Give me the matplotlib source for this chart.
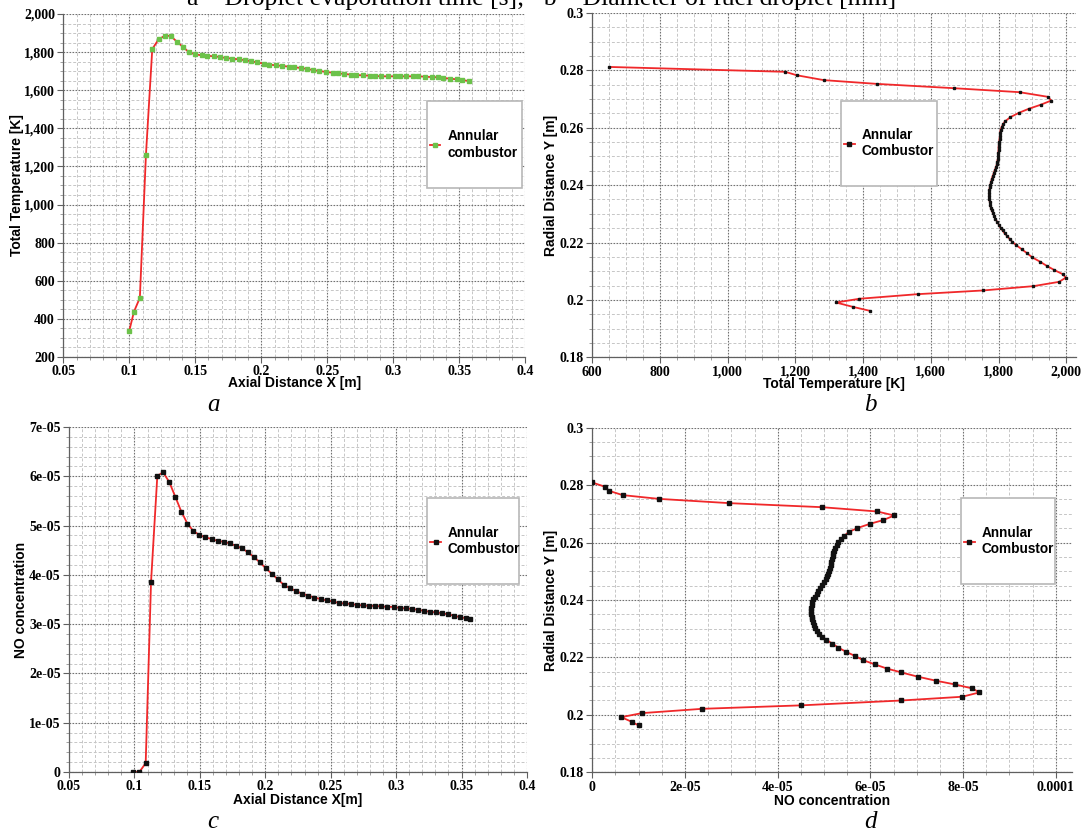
import numpy as np
import matplotlib
matplotlib.use("Agg")
import matplotlib.pyplot as plt
from matplotlib.ticker import MultipleLocator
from matplotlib.patches import Rectangle
from matplotlib.lines import Line2D

# ---- data ----
# a: total temperature along the axis
a_x = [0.100, 0.1035, 0.108, 0.1126, 0.1174, 0.1222, 0.127, 0.1313, 0.136, 0.141, 0.1452,
       0.150, 0.155, 0.159, 0.164, 0.169, 0.173, 0.178, 0.183, 0.188, 0.192,
       0.197, 0.202, 0.206, 0.211, 0.216, 0.221, 0.225, 0.230, 0.235, 0.239,
       0.244, 0.249, 0.254, 0.258, 0.263, 0.268, 0.272, 0.277, 0.282, 0.286,
       0.291, 0.296, 0.301, 0.305, 0.310, 0.315, 0.319, 0.324, 0.329, 0.334,
       0.338, 0.343, 0.348, 0.352, 0.357]
a_t = [338, 437, 511, 1260, 1816, 1867, 1886, 1885, 1855, 1825, 1799,
       1788, 1783, 1781, 1778, 1774, 1769, 1766, 1762, 1757, 1752,
       1746, 1739, 1734, 1731, 1727, 1724, 1720, 1717, 1711, 1706,
       1701, 1696, 1692, 1689, 1685, 1682, 1680, 1678, 1676, 1675,
       1673, 1673, 1673, 1673, 1673, 1673, 1673, 1671, 1669, 1668,
       1664, 1661, 1657, 1654, 1648]

# b: total temperature across the radius
b_r = [0.2812, 0.2795, 0.2783, 0.2766, 0.2753, 0.2738, 0.2724, 0.2708, 0.2695, 0.2680,
       0.2666, 0.2652, 0.2637,
       0.2622, 0.2612, 0.2602, 0.2592, 0.2582, 0.2572, 0.2562, 0.2552, 0.2542, 0.2532,
       0.2522, 0.2512, 0.2502, 0.2492, 0.2482, 0.2472, 0.2462, 0.2452, 0.2442, 0.2432,
       0.2422, 0.2412, 0.2402, 0.2392, 0.2382, 0.2372, 0.2362, 0.2352, 0.2342, 0.2332,
       0.2322, 0.2312, 0.2302, 0.2292, 0.2282, 0.2272, 0.2262, 0.2252, 0.2242, 0.2232,
       0.2222, 0.2212, 0.2202, 0.2192,
       0.2177, 0.2163, 0.2148, 0.2133, 0.2119, 0.2104, 0.2090, 0.2078, 0.2063, 0.2048,
       0.2033, 0.2020, 0.2004, 0.1991, 0.1976, 0.1962]
b_t = [650, 1170, 1204, 1284, 1440, 1667, 1862, 1945, 1956, 1924,
       1889, 1860, 1835,
       1819, 1813, 1809, 1806, 1805, 1804, 1803, 1802, 1801, 1800,
       1800, 1799, 1799, 1798, 1796, 1795, 1792, 1789, 1786, 1783,
       1780, 1778, 1776, 1774, 1773, 1772, 1772, 1773, 1774, 1776,
       1777, 1780, 1784, 1787, 1791, 1796, 1801, 1806, 1812, 1818,
       1826, 1833, 1841, 1851,
       1868, 1884, 1900, 1923, 1942, 1965, 1989, 1999, 1979, 1903,
       1755, 1561, 1389, 1320, 1369, 1420]

# c: NO along the axis (values in 1e-05)
c_x = [0.0992, 0.1038, 0.1086, 0.1127, 0.1175, 0.1219, 0.1267, 0.1313, 0.1359, 0.1405,
       0.1450, 0.1496, 0.1543, 0.1589, 0.1635, 0.1681, 0.1727, 0.1775, 0.1821, 0.1867,
       0.1910, 0.1956, 0.2002, 0.2050, 0.2096, 0.2144, 0.2190, 0.2236, 0.2282, 0.2328,
       0.2374, 0.2422, 0.2471, 0.2516, 0.2562, 0.2608, 0.2654, 0.2700, 0.2746, 0.2792,
       0.2840, 0.2886, 0.2932, 0.2981, 0.3027, 0.3073, 0.3119, 0.3167, 0.3213, 0.3259,
       0.3305, 0.3351, 0.3397, 0.3443, 0.3489, 0.3535, 0.3566]
c_no = [0, 0, 0.18, 3.86, 6.01, 6.08, 5.88, 5.58, 5.28, 5.04,
        4.89, 4.81, 4.76, 4.73, 4.69, 4.67, 4.64, 4.59, 4.54, 4.46,
        4.37, 4.26, 4.14, 4.02, 3.91, 3.79, 3.73, 3.67, 3.62, 3.58,
        3.54, 3.51, 3.48, 3.46, 3.43, 3.42, 3.41, 3.39, 3.38, 3.37,
        3.37, 3.36, 3.35, 3.35, 3.33, 3.32, 3.31, 3.29, 3.27, 3.25,
        3.24, 3.22, 3.20, 3.17, 3.14, 3.12, 3.10]

# d: NO across the radius (values in 1e-05)
d_r = [0.2809, 0.2794, 0.2780, 0.2765, 0.2752, 0.2737, 0.2723, 0.2708, 0.2694, 0.2678,
       0.2665, 0.2650, 0.2637,
       0.2622, 0.2612, 0.2602, 0.2592, 0.2582, 0.2572, 0.2562, 0.2552, 0.2542, 0.2532,
       0.2522, 0.2512, 0.2502, 0.2492, 0.2482, 0.2472, 0.2462, 0.2452, 0.2442, 0.2432,
       0.2422, 0.2412, 0.2402, 0.2392, 0.2382, 0.2372, 0.2362, 0.2352, 0.2342, 0.2332,
       0.2322, 0.2312, 0.2302, 0.2292, 0.2282, 0.2272, 0.2262,
       0.2248, 0.2234, 0.2219, 0.2205, 0.2190, 0.2176, 0.2161, 0.2148, 0.2133, 0.2119,
       0.2106, 0.2092, 0.2078, 0.2063, 0.2050, 0.2033, 0.2021, 0.2006, 0.1992, 0.1976,
       0.1963]
d_no = [0, 0.273, 0.36, 0.654, 1.431, 2.955, 4.947, 6.147, 6.514, 6.277,
        5.99, 5.716, 5.536,
        5.43, 5.36, 5.31, 5.27, 5.24, 5.22, 5.20, 5.19, 5.18, 5.16,
        5.14, 5.13, 5.11, 5.09, 5.07, 5.04, 5.00, 4.96, 4.92, 4.88,
        4.84, 4.80, 4.77, 4.75, 4.73, 4.72, 4.72, 4.72, 4.73, 4.75,
        4.76, 4.78, 4.81, 4.85, 4.90, 4.96, 5.04,
        5.18, 5.31, 5.48, 5.67, 5.85, 6.09, 6.36, 6.66, 7.02, 7.41,
        7.82, 8.20, 8.35, 7.98, 6.67, 4.50, 2.37, 1.07, 0.626, 0.848,
        1.00]

ax_x_ticks = [0.05, 0.1, 0.15, 0.2, 0.25, 0.3, 0.35, 0.4]
ax_x_labels = ['0.05', '0.1', '0.15', '0.2', '0.25', '0.3', '0.35', '0.4']
temp_ticks = [200, 400, 600, 800, 1000, 1200, 1400, 1600, 1800, 2000]
temp_y_labels = ['200', '400', '600', '800', '1,000', '1,200', '1,400', '1,600', '1,800', '2,000']
temp_x_ticks = [600, 800, 1000, 1200, 1400, 1600, 1800, 2000]
temp_x_labels = ['600', '800', '1,000', '1,200', '1,400', '1,600', '1,800', '2,000']
rad_ticks = [0.18, 0.2, 0.22, 0.24, 0.26, 0.28, 0.3]
rad_labels = ['0.18', '0.2', '0.22', '0.24', '0.26', '0.28', '0.3']
no_y_ticks = [0, 1e-05, 2e-05, 3e-05, 4e-05, 5e-05, 6e-05, 7e-05]
no_y_labels = ['0', '1e-05', '2e-05', '3e-05', '4e-05', '5e-05', '6e-05', '7e-05']
no_x_ticks = [0, 2e-05, 4e-05, 6e-05, 8e-05, 1e-04]
no_x_labels = ['0', '2e-05', '4e-05', '6e-05', '8e-05', '0.0001']

RED = '#f0282a'
GREEN = '#6cc24a'
SERIF = 'Liberation Serif'
SANS = 'Liberation Sans'

W, H = 1084, 836
fig = plt.figure(figsize=(W / 100, H / 100), dpi=100)
fig.patch.set_facecolor('white')


def add_ax(l, t, r, b):
    return fig.add_axes([l / W, 1 - b / H, (r - l) / W, (b - t) / H])


def style(ax, xt, xl, yt, yl, xmin, ymin):
    ax.set_xticks(xt)
    ax.set_xticklabels(xl)
    ax.set_yticks(yt)
    ax.set_yticklabels(yl)
    ax.xaxis.set_minor_locator(MultipleLocator(xmin))
    ax.yaxis.set_minor_locator(MultipleLocator(ymin))
    ax.set_axisbelow(True)
    ax.grid(which='major', color='#727272', ls=(0, (1.5, 1.2)), lw=0.8)
    ax.grid(which='minor', color='#c6c6c6', ls=(0, (3, 2)), lw=0.7)
    for s in ['top', 'right']:
        ax.spines[s].set_visible(False)
    for s in ['left', 'bottom']:
        ax.spines[s].set_color('#606060')
        ax.spines[s].set_linewidth(0.9)
    ax.tick_params(which='major', length=4, width=0.8, color='#606060', pad=2, labelsize=10)
    ax.tick_params(which='minor', length=2, width=0.6, color='#909090')
    for lbl in ax.get_xticklabels() + ax.get_yticklabels():
        lbl.set_fontfamily(SERIF)
        lbl.set_fontweight('bold')


def labels(ax, xlabel, ylabel, xpos, ypos):
    ax.set_xlabel(xlabel, fontfamily=SANS, fontweight='bold', fontsize=10)
    ax.set_ylabel(ylabel, fontfamily=SANS, fontweight='bold', fontsize=10)
    ax.xaxis.set_label_coords(0.5, xpos)
    ax.yaxis.set_label_coords(ypos, 0.5)


def legend_box(ax, l, t, r, b, text, mcolor, ms):
    ax.add_patch(Rectangle((l / W, 1 - b / H), (r - l) / W, (b - t) / H,
                           transform=fig.transFigure, clip_on=False,
                           fc='white', ec='#b8b8b8', lw=1.2, zorder=4))
    h = Line2D([], [], color=RED, lw=1.3, marker='s', ms=ms,
               mfc=mcolor, mec=mcolor)
    leg = ax.legend([h], [text], loc='center left',
                    bbox_to_anchor=((l + 3) / W, 1 - (t + b) / 2 / H),
                    bbox_transform=fig.transFigure, frameon=False,
                    handlelength=0.8, handletextpad=0.5, borderpad=0,
                    borderaxespad=0,
                    prop={'family': SANS, 'weight': 'bold', 'size': 9.8})
    leg.set_zorder(5)


# a
ax = add_ax(63.3, 14, 525.3, 357)
ax.plot(a_x, a_t, color=RED, lw=1.3, marker='s', ms=3.2, mfc=GREEN, mec=GREEN, zorder=3)
ax.set_xlim(0.05, 0.4)
ax.set_ylim(200, 2000)
style(ax, ax_x_ticks, ax_x_labels, temp_ticks, temp_y_labels, 0.01, 50)
labels(ax, 'Axial Distance X [m]', 'Total Temperature [K]', -0.056, -0.085)
legend_box(ax, 426.5, 101, 521.8, 188, 'Annular\ncombustor', GREEN, 3.2)

# b
ax = add_ax(592.3, 13, 1076.4, 357.3)
ax.plot(b_t, b_r, color=RED, lw=1.3, marker='s', ms=2.0, mfc='#111111', mec='#111111', zorder=3)
ax.set_xlim(600, 2030)
ax.set_ylim(0.18, 0.3)
style(ax, temp_x_ticks, temp_x_labels, rad_ticks, rad_labels, 50, 0.005)
labels(ax, 'Total Temperature [K]', 'Radial Distance Y [m]', -0.056, -0.071)
legend_box(ax, 840.7, 100.7, 937.3, 186, 'Annular\nCombustor', '#111111', 2.2)

# c
ax = add_ax(69, 427, 527, 772)
ax.plot(c_x, np.array(c_no) * 1e-05, color=RED, lw=1.3, marker='s', ms=2.8,
        mfc='#111111', mec='#111111', zorder=3)
ax.set_xlim(0.05, 0.4)
ax.set_ylim(0, 7e-05)
style(ax, ax_x_ticks, ax_x_labels, no_y_ticks, no_y_labels, 0.01, 2e-06)
labels(ax, 'Axial Distance X[m]', 'NO concentration', -0.062, -0.0895)
legend_box(ax, 427.3, 498.3, 519, 584.3, 'Annular\nCombustor', '#111111', 2.8)

# d
ax = add_ax(592.3, 427.6, 1072, 772.3)
ax.plot(np.array(d_no) * 1e-05, d_r, color=RED, lw=1.3, marker='s', ms=2.8,
        mfc='#111111', mec='#111111', zorder=3)
ax.set_xlim(0, 1.035e-04)
ax.set_ylim(0.18, 0.3)
style(ax, no_x_ticks, no_x_labels, rad_ticks, rad_labels, 5e-06, 0.005)
labels(ax, 'NO concentration', 'Radial Distance Y [m]', -0.062, -0.072)
legend_box(ax, 960.7, 498.3, 1055, 584.3, 'Annular\nCombustor', '#111111', 2.8)

# panel letters and the clipped caption line at the top
for x, y, s in [(213, 405, 'a'), (870, 405, 'b'), (213, 822, 'c'), (870, 822, 'd')]:
    fig.text(x / W, 1 - y / H, s, ha='center', va='center', fontsize=18,
             fontfamily=SERIF, fontstyle='italic')
fig.text(542 / W, 1 - 5 / H, 'a \u2013 Droplet evaporation time [s];   b \u2013 Diameter of fuel droplet [mm]',
         ha='center', va='baseline', fontsize=18.5, fontfamily=SERIF)

fig.savefig('out.png', dpi=100)
